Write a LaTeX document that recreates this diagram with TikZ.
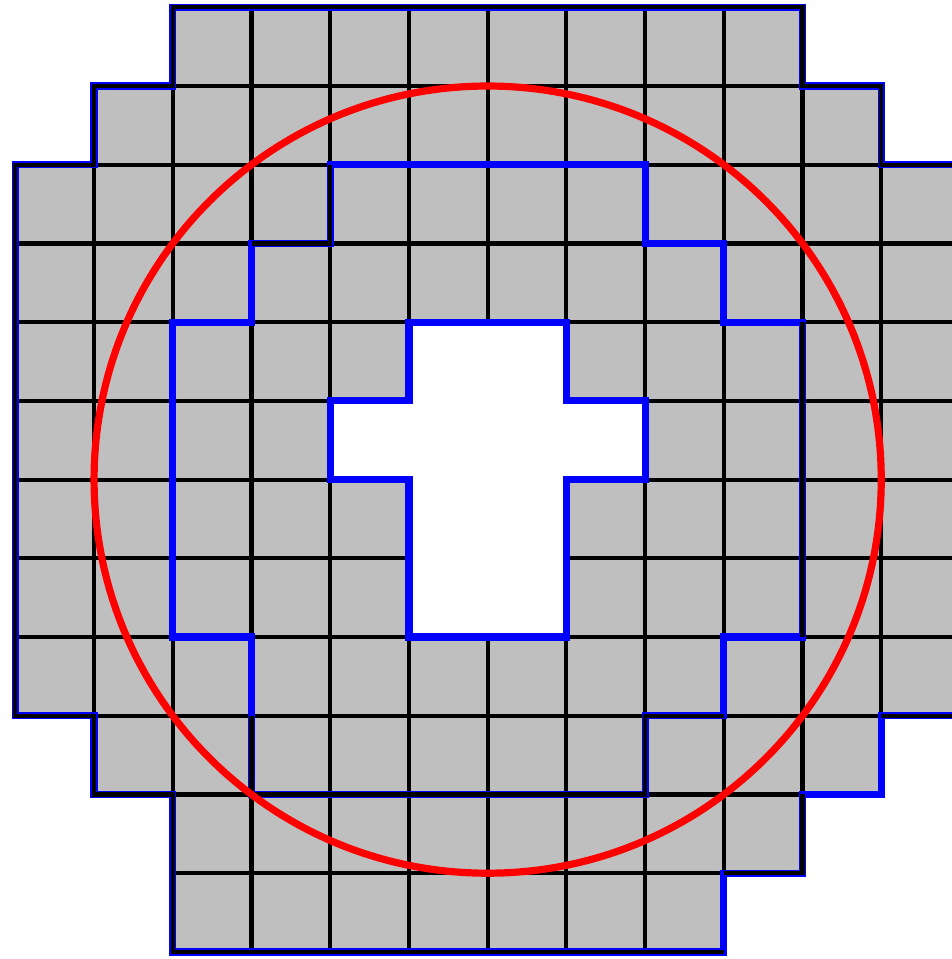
\documentclass[tikz,border=0pt]{standalone}
\usepackage{xcolor}
\usepackage{tikz}
\begin{document}
\begin{tikzpicture}[
      cell/.style={fill=lightgray, draw=black, line width=1.5pt},
      bare/.style={fill=lightgray},
      hole/.style={fill=white},
      contour/.style={draw=blue, line width=2.6pt},
      gridline/.style={draw=black, line width=1.5pt},
      disk/.style={draw=red, line width=2.6pt}
    ]
      \useasboundingbox (-0.195,0.093) rectangle (11.89,-12.09);
      \fill[bare] (10,-9) rectangle ++(1,-1);
      \fill[bare] (8,-11) rectangle ++(1,-1);
      \foreach \r/\a/\b in {0/2/9, 1/1/10, 2/0/11, 3/0/11, 4/0/11, 5/0/11,
                            6/0/11, 7/0/11, 8/0/11, 9/1/9, 10/2/9, 11/2/7}
        \foreach \c in {\a,...,\b}
          \draw[cell] (\c,-\r) rectangle ++(1,-1);
      \path[hole] (5,-4) -- (7,-4) -- (7,-5) -- (8,-5) -- (8,-6) -- (7,-6) -- (7,-8)
        -- (5,-8) -- (5,-6) -- (4,-6) -- (4,-5) -- (5,-5) -- cycle;
      \draw[contour] (2,0) -- (10,0) -- (10,-1) -- (11,-1) -- (11,-2) -- (12,-2)
        -- (12,-9) -- (11,-9) -- (11,-10) -- (10,-10) -- (10,-11) -- (9,-11)
        -- (9,-12) -- (2,-12) -- (2,-10) -- (1,-10) -- (1,-9) -- (0,-9) -- (0,-2)
        -- (1,-2) -- (1,-1) -- (2,-1) -- cycle;
      \draw[contour] (4,-2) -- (8,-2) -- (8,-3) -- (9,-3) -- (9,-4) -- (10,-4)
        -- (10,-8) -- (9,-8) -- (9,-9) -- (8,-9) -- (8,-10) -- (3,-10) -- (3,-8)
        -- (2,-8) -- (2,-4) -- (3,-4) -- (3,-3) -- (4,-3) -- cycle;
      \draw[contour] (5,-4) -- (7,-4) -- (7,-5) -- (8,-5) -- (8,-6) -- (7,-6)
        -- (7,-8) -- (5,-8) -- (5,-6) -- (4,-6) -- (4,-5) -- (5,-5) -- cycle;
      \draw[gridline] (10,-10) -- (10,-11) -- (9,-11) (9,-12) -- (2,-12)
        -- (2,-10) -- (1,-10) -- (1,-9) -- (0,-9) -- (0,-2) -- (1,-2) -- (1,-1)
        -- (2,-1) -- (2,0) -- (10,0) -- (10,-1) -- (11,-1) -- (11,-2) -- (12,-2)
        -- (12,-9) -- (11,-9);
      \draw[gridline] (10,-4) -- (10,-8) (9,-9) -- (8,-9) -- (8,-10) -- (3,-10)
        -- (3,-9) (3,-3) -- (4,-3) -- (4,-2);
      \draw[disk] (6,-6) circle (5);
    \end{tikzpicture}
\end{document}
